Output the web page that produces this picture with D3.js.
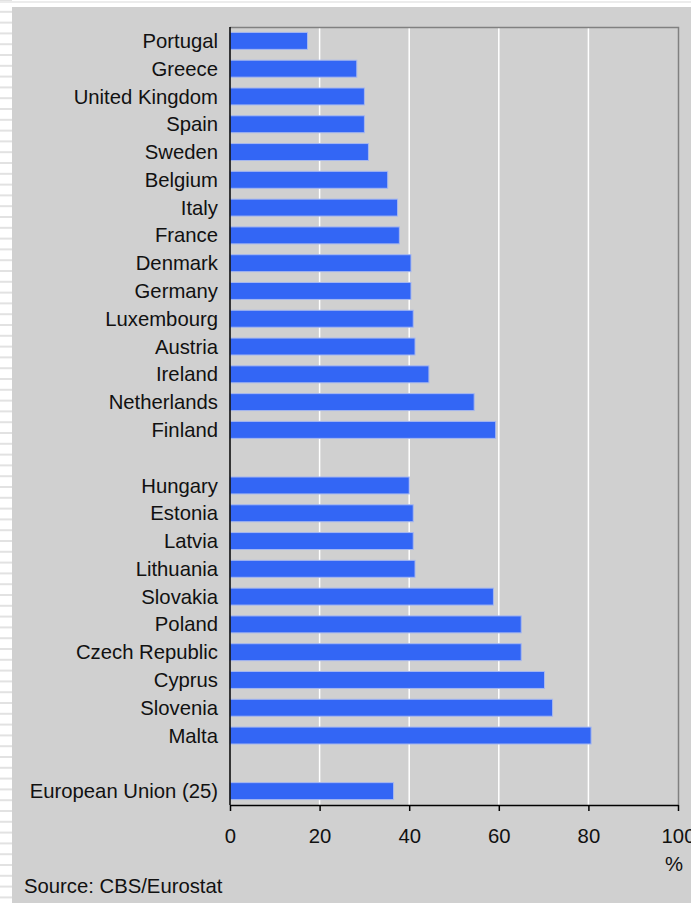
<!DOCTYPE html>
<html>
<head>
<meta charset="utf-8">
<script src="https://cdn.jsdelivr.net/npm/d3@7"></script>
<style>
  body { margin: 0; background: #fff; }
  svg { display: block; font-family: "Liberation Sans", Arial, sans-serif; }
</style>
</head>
<body>
<svg id="chart" width="691" height="903"></svg>
<script>
// "" marks an empty slot between groups
var categories = [
  "Portugal", "Greece", "United Kingdom", "Spain", "Sweden", "Belgium", "Italy",
  "France", "Denmark", "Germany", "Luxembourg", "Austria", "Ireland",
  "Netherlands", "Finland", "",
  "Hungary", "Estonia", "Latvia", "Lithuania", "Slovakia", "Poland",
  "Czech Republic", "Cyprus", "Slovenia", "Malta", "",
  "European Union (25)"
];
var values = [
  17.3, 28.3, 30.0, 30.0, 30.9, 35.2, 37.4,
  37.8, 40.4, 40.4, 40.9, 41.3, 44.4,
  54.5, 59.3, null,
  40.0, 40.9, 40.9, 41.3, 58.8, 65.0,
  65.0, 70.2, 72.0, 80.6, null,
  36.5
];
var ticks = [0, 20, 40, 60, 80, 100];

var svg = d3.select('#chart');
var W = 691, H = 903;
var plotLeft = 230, plotRight = 678, plotTop = 27, plotBottom = 805;
var fontSize = 20.3;

// striped page edge
svg.selectAll('line.stripe')
    .data(d3.range(0, H, 10.8))
    .enter().append('line')
    .attr('x1', 0).attr('x2', 12)
    .attr('y1', d => d + 1).attr('y2', d => d + 1)
    .attr('stroke', '#e2e2e2')
    .attr('stroke-width', 2);
svg.append('rect')
    .attr('x', 0).attr('y', 1).attr('width', W).attr('height', 2)
    .attr('fill', '#ececec');

// grey panel
svg.append('rect')
    .attr('x', 12).attr('y', 7)
    .attr('width', W - 12).attr('height', H - 7)
    .attr('fill', '#d0d0d0');

var x = d3.scaleLinear().domain([0, 100]).range([plotLeft, plotRight]);
var y = d3.scaleBand()
    .domain(d3.range(categories.length))
    .range([plotTop, plotBottom])
    .paddingInner(0.39)
    .paddingOuter(0.195);

// gridlines
svg.selectAll('line.grid')
    .data(ticks.filter(t => t > 0 && t < 100))
    .enter().append('line')
    .attr('x1', d => x(d)).attr('x2', d => x(d))
    .attr('y1', plotTop).attr('y2', plotBottom)
    .attr('stroke', '#ffffff')
    .attr('stroke-width', 1.5);

// plot border top/right
svg.append('path')
    .attr('d', 'M' + plotLeft + ',' + (plotTop + 0.5) + 'H' + (plotRight + 0.5) + 'V' + plotBottom)
    .attr('fill', 'none')
    .attr('stroke', '#808080')
    .attr('stroke-width', 1.5);

var rows = categories.map((c, i) => ({name: c, value: values[i], i: i}));

// bars
svg.selectAll('rect.bar')
    .data(rows.filter(d => d.value != null))
    .enter().append('rect')
    .attr('x', x(0))
    .attr('y', d => y(d.i))
    .attr('width', d => x(d.value) - x(0))
    .attr('height', y.bandwidth())
    .attr('fill', '#3366f5')
    .attr('stroke', '#a7b8ef')
    .attr('stroke-width', 1);

// category labels
svg.selectAll('text.cat')
    .data(rows.filter(d => d.name !== ''))
    .enter().append('text')
    .attr('x', 218)
    .attr('y', d => y(d.i) + y.bandwidth() / 2)
    .attr('dy', '0.35em')
    .attr('text-anchor', 'end')
    .attr('font-size', fontSize)
    .attr('fill', '#111')
    .text(d => d.name);

// y axis line
svg.append('line')
    .attr('x1', plotLeft).attr('x2', plotLeft)
    .attr('y1', plotTop).attr('y2', plotBottom)
    .attr('stroke', '#000')
    .attr('stroke-width', 1.5);

// x axis
var xAxis = svg.append('g')
    .attr('transform', 'translate(0,' + plotBottom + ')')
    .call(d3.axisBottom(x).tickValues(ticks).tickSize(6).tickSizeOuter(0));
xAxis.select('.domain').attr('stroke', '#000').attr('stroke-width', 1.5);
xAxis.selectAll('.tick line').attr('stroke', '#000').attr('stroke-width', 1.5);
xAxis.selectAll('.tick text')
    .attr('font-size', fontSize)
    .attr('font-family', '"Liberation Sans", Arial, sans-serif')
    .attr('fill', '#111')
    .attr('y', 24);

svg.append('text')
    .attr('x', 674).attr('y', 871)
    .attr('text-anchor', 'middle')
    .attr('font-size', fontSize)
    .attr('fill', '#111')
    .text('%');

svg.append('text')
    .attr('x', 24).attr('y', 893)
    .attr('font-size', fontSize)
    .attr('fill', '#111')
    .text('Source: CBS/Eurostat');
</script>
</body>
</html>
